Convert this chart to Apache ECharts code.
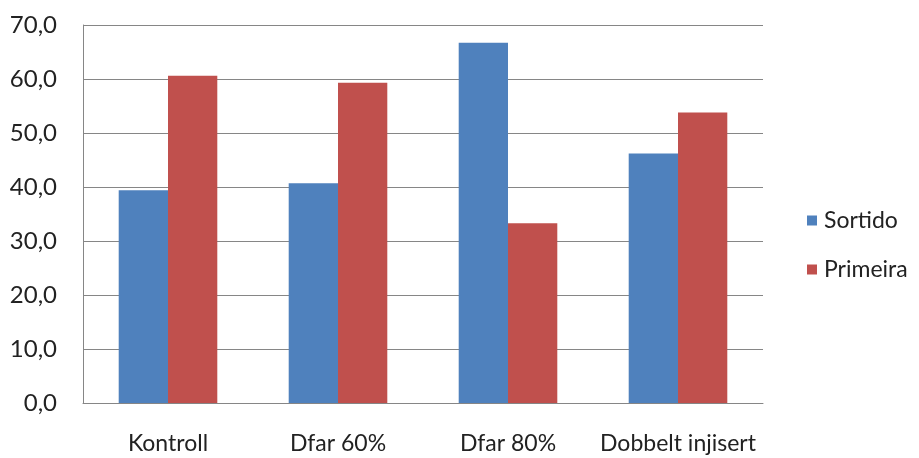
<!DOCTYPE html>
<html><head><meta charset="utf-8">
<script src="https://cdn.jsdelivr.net/npm/echarts@6/dist/echarts.min.js"></script>
<style>html,body{margin:0;padding:0;background:#fff}#c{width:919px;height:458px}</style>
</head><body><div id="c"></div>
<script>
const categories = ['Kontroll', 'Dfar 60%', 'Dfar 80%', 'Dobbelt injisert'];
const sortido = [39.4, 40.7, 66.7, 46.2];
const primeira = [60.6, 59.3, 33.3, 53.8];
const seriesNames = ['Sortido', 'Primeira'];

const chart = echarts.init(document.getElementById('c'));
const font = 'Lato';
chart.setOption({
  animation: false,
  backgroundColor: '#fff',
  grid: {left: 83, right: 156, top: 25, bottom: 55},
  legend: {
    orient: 'vertical', left: 802, top: 204,
    itemWidth: 10, itemHeight: 10, itemGap: 26,
    icon: 'rect',
    textStyle: {fontFamily: font, fontSize: 23, color: '#222', padding: [0,0,0,2]},
    data: seriesNames
  },
  xAxis: {
    type: 'category', data: categories,
    axisLine: {lineStyle: {color: '#868686', width: 1}},
    axisTick: {show: false},
    axisLabel: {fontFamily: font, fontSize: 23, color: '#222', margin: 29,
      interval: 0, hideOverlap: false}
  },
  yAxis: {
    type: 'value', min: 0, max: 70, interval: 10,
    axisLine: {show: true, lineStyle: {color: '#868686'}},
    axisTick: {show: false},
    splitLine: {lineStyle: {color: '#868686', width: 1}},
    axisLabel: {fontFamily: font, fontSize: 24, color: '#222', margin: 26,
      formatter: v => v.toFixed(1).replace('.', ',')}
  },
  series: [
    {name: seriesNames[0], type: 'bar', data: sortido, barGap: '0%', barCategoryGap: '42%',
     itemStyle: {color: '#4F81BD'}},
    {name: seriesNames[1], type: 'bar', data: primeira, barGap: '0%', barCategoryGap: '42%',
     itemStyle: {color: '#C0504D'}}
  ]
});
</script></body></html>
